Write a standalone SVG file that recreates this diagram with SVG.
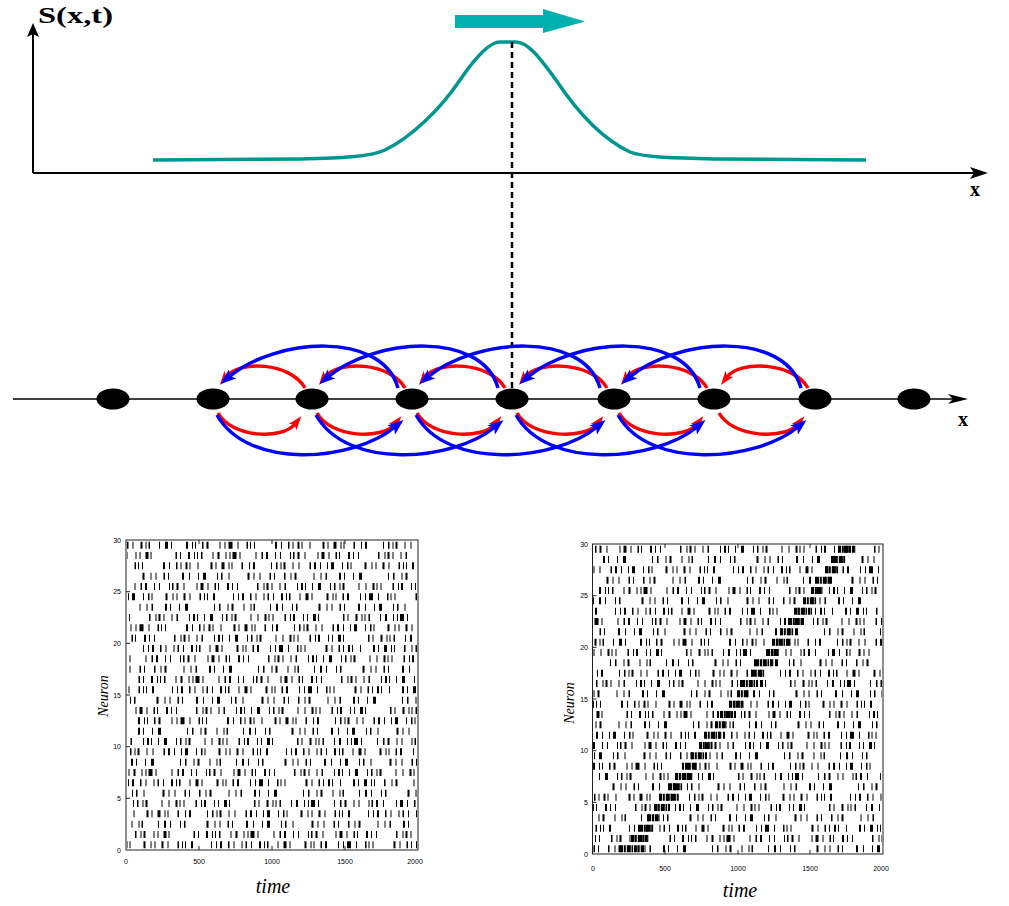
<svg xmlns="http://www.w3.org/2000/svg" width="1009" height="906" viewBox="0 0 1009 906">
<defs>
<style>
.rl{fill:none;stroke:#f00;stroke-width:3.5;marker-end:url(#mr)}
.bl{fill:none;stroke:#00f;stroke-width:3.5;marker-end:url(#mb)}
.sp line{stroke:#000;stroke-width:7}
.d1{stroke-dasharray:1.5 4 1 7 2 3 1 2 1.5 9 1 5 3 3 1 14 2 4 1 2 1 6 1.5 3 2 11 1 4 1 3 4 5 1 8 1.5 2 1 3 1 20 2 4 1 6 1.5 3 1 4 2 2 1 7 1 12 2 3 1 5 3 4 1 2 1 9 1.5 6 1 3 2 16 1 4 1.5 3 1 2 2 7 1 5 1 10 1.5 3 2 4 1 6 1 3 3 8 1 4 1.5 2 1 13 2 5 1 3 1 6 2 4 1 9 1.5 3 1 2 1 5 2 18 1 4 1 3 2 6 1.5 4 1 7 1 3}
.d2{stroke-dasharray:1 6 2 2 1 3 1 11 1.5 4 1 2 2 8 1 3 1 5 3 2 1 24 1.5 3 1 7 2 4 1 2 1 3 1.5 10 1 4 2 6 1 3 1 2 4 3 1 15 1 5 1.5 3 2 7 1 4 1 9 1 2 1.5 3 2 5 1 12 1 3 3 4 1 6 1.5 2 1 8 2 3 1 4 1 19 1.5 5 1 2 2 3 1 7 1 4 1.5 11 1 3 2 2 1 6 1 5 3 9 1 3 1.5 4 1 2 2 14 1 6}
.d3{stroke-dasharray:1 9 1.5 5 1 3 2 17 1 6 1 4 1.5 12 2 3 1 8 1 5 3 26 1 4 1.5 7 1 3 2 10 1 6 1 2 1.5 15 1 5 2 4 1 9 1 3 1.5 21 2 6 1 4 1 7 1.5 3 1 13 2 5 1 8 1 4 3 11 1 3 1.5 6 1 18 2 4 1 5 1 9 1.5 3}
.bd{stroke-dasharray:3 .8 2 1 4 .7 1.5 .9}
.tk{font-family:"Liberation Sans",Arial,sans-serif;font-size:7px;fill:#000}
.tl{font-family:"Liberation Serif","Times New Roman",serif;font-style:italic;fill:#000}
.fr{fill:none;stroke:#222;stroke-width:1}
.tm{stroke:#222;stroke-width:1}
</style>
<marker id="mr" viewBox="0 0 14 10" refX="4" refY="5" markerWidth="14" markerHeight="10" orient="auto" markerUnits="userSpaceOnUse"><path d="M0,0 L14,5 L0,10 L3.5,5 z" fill="#f00"/></marker>
<marker id="mb" viewBox="0 0 16 12" refX="5" refY="6" markerWidth="16" markerHeight="12" orient="auto" markerUnits="userSpaceOnUse"><path d="M0,0 L16,6 L0,12 L4,6 z" fill="#00f"/></marker>
</defs>
<rect width="1009" height="906" fill="#fff"/>

<g id="top-plot">
<line x1="33" y1="173" x2="33" y2="32" stroke="#000" stroke-width="2"/>
<polygon points="33,23 39,37 33,34 27,37" fill="#000"/>
<line x1="33" y1="173" x2="978" y2="173" stroke="#000" stroke-width="2"/>
<polygon points="988,173 970,167 974,173 970,179" fill="#000"/>
<text x="38" y="23" font-family="Liberation Serif,'Times New Roman',serif" font-weight="bold" font-size="23" textLength="75" lengthAdjust="spacingAndGlyphs">S(x,t)</text>
<text x="970" y="196" font-family="Liberation Serif,'Times New Roman',serif" font-weight="bold" font-size="20">x</text>
<polygon points="455,15 543,15 543,9 585,21.5 543,33 543,28 455,28" fill="#00b0ae"/>
<path d="M153,160 L300,159 C340,158 370,157 385,150 C410,138 440,110 460,80 C475,58 490,42 500,42 L516,42 C528,42 540,58 556,80 C576,110 600,138 630,152 C645,158 680,158 720,159 L866,160" fill="none" stroke="#00968f" stroke-width="3.5" stroke-linejoin="round"/>
<line x1="512" y1="42" x2="512" y2="390" stroke="#000" stroke-width="2.5" stroke-dasharray="6 4"/>
</g>

<g id="chain-axis">
<line x1="13" y1="399" x2="960" y2="399" stroke="#000" stroke-width="1.5"/>
<path d="M948,394 L968,399 L948,404 L953,399 z" fill="#000"/>
<text x="958" y="426" font-family="Liberation Serif,'Times New Roman',serif" font-weight="bold" font-size="20">x</text>
</g>

<g id="connectors">
<path class="rl" d="M305,388 C290,362 239,360 226,377"/>
<path class="rl" d="M405,388 C390,362 338,360 325,377"/>
<path class="rl" d="M505,388 C490,362 438,360 425,377"/>
<path class="rl" d="M607,388 C592,362 538,360 525,377"/>
<path class="rl" d="M707,388 C692,362 640,360 627,377"/>
<path class="rl" d="M808,388 C793,362 740,360 727,377"/>
<path class="rl" d="M218,413 C232,438 282,440 295,424"/>
<path class="rl" d="M317,413 C331,438 382,440 395,424"/>
<path class="rl" d="M417,413 C431,438 482,440 495,424"/>
<path class="rl" d="M517,413 C531,438 584,440 597,424"/>
<path class="rl" d="M619,413 C633,438 684,440 697,424"/>
<path class="rl" d="M719,413 C733,438 785,440 798,424"/>
<path class="bl" d="M398,388 C382,330 275,338 229,377"/>
<path class="bl" d="M498,388 C482,330 374,338 328,377"/>
<path class="bl" d="M600,388 C584,330 474,338 428,377"/>
<path class="bl" d="M700,388 C684,330 574,338 528,377"/>
<path class="bl" d="M801,388 C785,330 676,338 630,377"/>
<path class="bl" d="M217,415 C248,470 352,462 395,427"/>
<path class="bl" d="M316,415 C347,470 452,462 495,427"/>
<path class="bl" d="M416,415 C447,470 554,462 597,427"/>
<path class="bl" d="M516,415 C547,470 654,462 697,427"/>
<path class="bl" d="M618,415 C649,470 755,462 798,427"/>
</g>

<g id="n1"><ellipse cx="113" cy="399" rx="16.5" ry="10.5"/></g>
<g id="n2"><ellipse cx="213" cy="399" rx="16.5" ry="10.5"/></g>
<g id="n3"><ellipse cx="312" cy="399" rx="16.5" ry="10.5"/></g>
<g id="n4"><ellipse cx="412" cy="399" rx="16.5" ry="10.5"/></g>
<g id="n5"><ellipse cx="512" cy="399" rx="16.5" ry="10.5"/></g>
<g id="n6"><ellipse cx="614" cy="399" rx="16.5" ry="10.5"/></g>
<g id="n7"><ellipse cx="714" cy="399" rx="16.5" ry="10.5"/></g>
<g id="n8"><ellipse cx="815" cy="399" rx="16.5" ry="10.5"/></g>
<g id="n9"><ellipse cx="914" cy="399" rx="16.5" ry="10.5"/></g>

<g id="raster-left">
<g class="sp">
<line class="d1" x1="127" x2="417" y1="545.2" y2="545.2" stroke-dashoffset="0"/>
<line class="d2" x1="127" x2="417" y1="555.5" y2="555.5" stroke-dashoffset="37"/>
<line class="d1" x1="127" x2="417" y1="565.8" y2="565.8" stroke-dashoffset="112"/>
<line class="d3" x1="127" x2="417" y1="576.2" y2="576.2" stroke-dashoffset="203"/>
<line class="d2" x1="127" x2="417" y1="586.5" y2="586.5" stroke-dashoffset="158"/>
<line class="d1" x1="127" x2="417" y1="596.8" y2="596.8" stroke-dashoffset="311"/>
<line class="d3" x1="127" x2="417" y1="607.2" y2="607.2" stroke-dashoffset="27"/>
<line class="d2" x1="127" x2="417" y1="617.5" y2="617.5" stroke-dashoffset="266"/>
<line class="d1" x1="127" x2="417" y1="627.8" y2="627.8" stroke-dashoffset="89"/>
<line class="d2" x1="127" x2="417" y1="638.2" y2="638.2" stroke-dashoffset="241"/>
<line class="d1" x1="127" x2="417" y1="648.5" y2="648.5" stroke-dashoffset="401"/>
<line class="d2" x1="127" x2="417" y1="658.8" y2="658.8" stroke-dashoffset="147"/>
<line class="d3" x1="127" x2="417" y1="669.2" y2="669.2" stroke-dashoffset="333"/>
<line class="d2" x1="127" x2="417" y1="679.5" y2="679.5" stroke-dashoffset="74"/>
<line class="d1" x1="127" x2="417" y1="689.8" y2="689.8" stroke-dashoffset="372"/>
<line class="d3" x1="127" x2="417" y1="700.2" y2="700.2" stroke-dashoffset="189"/>
<line class="d2" x1="127" x2="417" y1="710.5" y2="710.5" stroke-dashoffset="219"/>
<line class="d1" x1="127" x2="417" y1="720.8" y2="720.8" stroke-dashoffset="48"/>
<line class="d3" x1="127" x2="417" y1="731.2" y2="731.2" stroke-dashoffset="404"/>
<line class="d2" x1="127" x2="417" y1="741.5" y2="741.5" stroke-dashoffset="312"/>
<line class="d1" x1="127" x2="417" y1="751.8" y2="751.8" stroke-dashoffset="258"/>
<line class="d3" x1="127" x2="417" y1="762.2" y2="762.2" stroke-dashoffset="61"/>
<line class="d2" x1="127" x2="417" y1="772.5" y2="772.5" stroke-dashoffset="121"/>
<line class="d1" x1="127" x2="417" y1="782.8" y2="782.8" stroke-dashoffset="421"/>
<line class="d3" x1="127" x2="417" y1="793.2" y2="793.2" stroke-dashoffset="288"/>
<line class="d2" x1="127" x2="417" y1="803.5" y2="803.5" stroke-dashoffset="355"/>
<line class="d1" x1="127" x2="417" y1="813.8" y2="813.8" stroke-dashoffset="176"/>
<line class="d3" x1="127" x2="417" y1="824.2" y2="824.2" stroke-dashoffset="139"/>
<line class="d2" x1="127" x2="417" y1="834.5" y2="834.5" stroke-dashoffset="19"/>
<line class="d1" x1="127" x2="417" y1="844.8" y2="844.8" stroke-dashoffset="333"/>
</g>
<rect class="fr" x="126" y="540" width="292" height="310"/>
<path class="tm" d="M199,540v4M272,540v4M345,540v4M199,850v-4M272,850v-4M345,850v-4M126,591.7h4M126,643.3h4M126,695h4M126,746.7h4M126,798.3h4"/>
<g class="tk" text-anchor="end">
<text x="121" y="852.5">0</text><text x="121" y="800.8">5</text><text x="121" y="749.2">10</text><text x="121" y="697.5">15</text><text x="121" y="645.8">20</text><text x="121" y="594.2">25</text><text x="121" y="542.5">30</text>
</g>
<g class="tk" text-anchor="middle">
<text x="126" y="864">0</text><text x="199" y="864">500</text><text x="272" y="864">1000</text><text x="345" y="864">1500</text><text x="415" y="864">2000</text>
</g>
<text class="tl" x="0" y="0" font-size="14" text-anchor="middle" transform="translate(108,696) rotate(-90)">Neuron</text>
<text class="tl" x="273" y="893" font-size="20" text-anchor="middle">time</text>
</g>

<g id="raster-right">
<g class="sp">
<line class="d2" x1="593" x2="882" y1="549.2" y2="549.2" stroke-dashoffset="201"/>
<line class="d3" x1="593" x2="882" y1="559.5" y2="559.5" stroke-dashoffset="55"/>
<line class="d1" x1="593" x2="882" y1="569.8" y2="569.8" stroke-dashoffset="277"/>
<line class="d3" x1="593" x2="882" y1="580.2" y2="580.2" stroke-dashoffset="310"/>
<line class="d2" x1="593" x2="882" y1="590.5" y2="590.5" stroke-dashoffset="92"/>
<line class="d3" x1="593" x2="882" y1="600.8" y2="600.8" stroke-dashoffset="170"/>
<line class="d1" x1="593" x2="882" y1="611.2" y2="611.2" stroke-dashoffset="395"/>
<line class="d2" x1="593" x2="882" y1="621.5" y2="621.5" stroke-dashoffset="141"/>
<line class="d3" x1="593" x2="882" y1="631.8" y2="631.8" stroke-dashoffset="233"/>
<line class="d1" x1="593" x2="882" y1="642.2" y2="642.2" stroke-dashoffset="12"/>
<line class="d2" x1="593" x2="882" y1="652.5" y2="652.5" stroke-dashoffset="389"/>
<line class="d3" x1="593" x2="882" y1="662.8" y2="662.8" stroke-dashoffset="97"/>
<line class="d1" x1="593" x2="882" y1="673.2" y2="673.2" stroke-dashoffset="230"/>
<line class="d2" x1="593" x2="882" y1="683.5" y2="683.5" stroke-dashoffset="285"/>
<line class="d3" x1="593" x2="882" y1="693.8" y2="693.8" stroke-dashoffset="366"/>
<line class="d1" x1="593" x2="882" y1="704.2" y2="704.2" stroke-dashoffset="120"/>
<line class="d2" x1="593" x2="882" y1="714.5" y2="714.5" stroke-dashoffset="52"/>
<line class="d3" x1="593" x2="882" y1="724.8" y2="724.8" stroke-dashoffset="14"/>
<line class="d1" x1="593" x2="882" y1="735.2" y2="735.2" stroke-dashoffset="296"/>
<line class="d2" x1="593" x2="882" y1="745.5" y2="745.5" stroke-dashoffset="176"/>
<line class="d3" x1="593" x2="882" y1="755.8" y2="755.8" stroke-dashoffset="273"/>
<line class="d1" x1="593" x2="882" y1="766.2" y2="766.2" stroke-dashoffset="59"/>
<line class="d2" x1="593" x2="882" y1="776.5" y2="776.5" stroke-dashoffset="337"/>
<line class="d3" x1="593" x2="882" y1="786.8" y2="786.8" stroke-dashoffset="199"/>
<line class="d1" x1="593" x2="882" y1="797.2" y2="797.2" stroke-dashoffset="160"/>
<line class="d2" x1="593" x2="882" y1="807.5" y2="807.5" stroke-dashoffset="246"/>
<line class="d3" x1="593" x2="882" y1="817.8" y2="817.8" stroke-dashoffset="122"/>
<line class="d1" x1="593" x2="882" y1="828.2" y2="828.2" stroke-dashoffset="381"/>
<line class="d2" x1="593" x2="882" y1="838.5" y2="838.5" stroke-dashoffset="9"/>
<line class="d3" x1="593" x2="882" y1="848.8" y2="848.8" stroke-dashoffset="345"/>
</g>
<g class="sp">
<line class="bd" x1="620" x2="644" y1="848.8" y2="848.8"/>
<line class="bd" x1="631" x2="649" y1="838.5" y2="838.5"/>
<line class="bd" x1="640" x2="654" y1="828.2" y2="828.2"/>
<line class="bd" x1="648" x2="660" y1="817.8" y2="817.8"/>
<line class="bd" x1="654" x2="670" y1="807.5" y2="807.5"/>
<line class="bd" x1="659" x2="679" y1="797.2" y2="797.2"/>
<line class="bd" x1="669" x2="683" y1="786.8" y2="786.8"/>
<line class="bd" x1="675" x2="693" y1="776.5" y2="776.5"/>
<line class="bd" x1="685" x2="697" y1="766.2" y2="766.2"/>
<line class="bd" x1="691" x2="707" y1="755.8" y2="755.8"/>
<line class="bd" x1="699" x2="713" y1="745.5" y2="745.5"/>
<line class="bd" x1="704" x2="722" y1="735.2" y2="735.2"/>
<line class="bd" x1="715" x2="727" y1="724.8" y2="724.8"/>
<line class="bd" x1="720" x2="736" y1="714.5" y2="714.5"/>
<line class="bd" x1="729" x2="743" y1="704.2" y2="704.2"/>
<line class="bd" x1="737" x2="749" y1="693.8" y2="693.8"/>
<line class="bd" x1="742" x2="758" y1="683.5" y2="683.5"/>
<line class="bd" x1="751" x2="765" y1="673.2" y2="673.2"/>
<line class="bd" x1="756" x2="774" y1="662.8" y2="662.8"/>
<line class="bd" x1="767" x2="779" y1="652.5" y2="652.5"/>
<line class="bd" x1="772" x2="788" y1="642.2" y2="642.2"/>
<line class="bd" x1="780" x2="794" y1="631.8" y2="631.8"/>
<line class="bd" x1="789" x2="801" y1="621.5" y2="621.5"/>
<line class="bd" x1="794" x2="810" y1="611.2" y2="611.2"/>
<line class="bd" x1="803" x2="817" y1="600.8" y2="600.8"/>
<line class="bd" x1="811" x2="823" y1="590.5" y2="590.5"/>
<line class="bd" x1="816" x2="832" y1="580.2" y2="580.2"/>
<line class="bd" x1="825" x2="839" y1="569.8" y2="569.8"/>
<line class="bd" x1="832" x2="846" y1="559.5" y2="559.5"/>
<line class="bd" x1="838" x2="856" y1="549.2" y2="549.2"/>
</g>
<rect class="fr" x="592.5" y="544" width="290.5" height="310"/>
<path class="tm" d="M665,544v4M738,544v4M810,544v4M665,854v-4M738,854v-4M810,854v-4M592.5,595.7h4M592.5,647.3h4M592.5,699h4M592.5,750.7h4M592.5,802.3h4"/>
<g class="tk" text-anchor="end">
<text x="588" y="856.5">0</text><text x="588" y="804.8">5</text><text x="588" y="753.2">10</text><text x="588" y="701.5">15</text><text x="588" y="649.8">20</text><text x="588" y="598.2">25</text><text x="588" y="546.5">30</text>
</g>
<g class="tk" text-anchor="middle">
<text x="593" y="871">0</text><text x="665" y="871">500</text><text x="738" y="871">1000</text><text x="810" y="871">1500</text><text x="881" y="871">2000</text>
</g>
<text class="tl" x="0" y="0" font-size="14" text-anchor="middle" transform="translate(574,703) rotate(-90)">Neuron</text>
<text class="tl" x="740" y="897" font-size="20" text-anchor="middle">time</text>
</g>
</svg>
